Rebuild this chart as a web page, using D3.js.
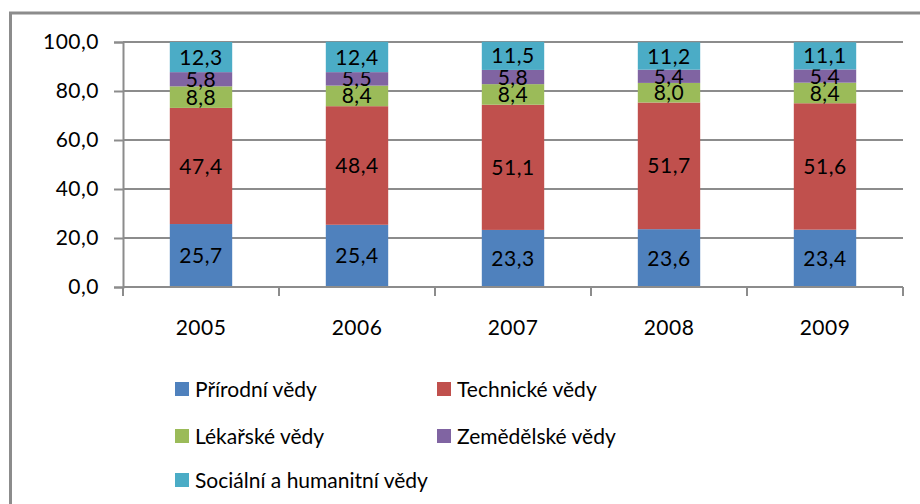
<!DOCTYPE html>
<html>
<head>
<meta charset="utf-8">
<script src="https://cdn.jsdelivr.net/npm/d3@7"></script>
<style>
  body { margin: 0; background: #fff; }
  svg text { font-family: Lato, "Open Sans", sans-serif; fill: #000; }
</style>
</head>
<body>
<div id="chart"></div>
<script>
const years = ["2005", "2006", "2007", "2008", "2009"];
const fields = ["Přírodní vědy", "Technické vědy", "Lékařské vědy", "Zemědělské vědy", "Sociální a humanitní vědy"];
const prirodni = [25.7, 25.4, 23.3, 23.6, 23.4];
const technicke = [47.4, 48.4, 51.1, 51.7, 51.6];
const lekarske = [8.8, 8.4, 8.4, 8.0, 8.4];
const zemedelske = [5.8, 5.5, 5.8, 5.4, 5.4];
const socialni = [12.3, 12.4, 11.5, 11.2, 11.1];
const yTicks = [0, 20, 40, 60, 80, 100];

const colors = ["#4f81bd", "#c0504d", "#9bbb59", "#8064a2", "#4bacc6"];
const series = [prirodni, technicke, lekarske, zemedelske, socialni];

const width = 920, height = 504;
const plotL = 123, plotR = 903, plotT = 42, plotB = 287;

const svg = d3.select("#chart").append("svg")
    .attr("width", width)
    .attr("height", height);

// outer frame
svg.append("rect")
    .attr("x", 10.5).attr("y", 13)
    .attr("width", 930).attr("height", 510)
    .attr("fill", "none")
    .attr("stroke", "#8c8c8c")
    .attr("stroke-width", 3);

const rows = years.map((y, i) => {
  const r = { year: y };
  fields.forEach((f, k) => r[f] = series[k][i]);
  return r;
});
const stacked = d3.stack().keys(fields)(rows);

const x = d3.scaleBand().domain(years).range([plotL, plotR]).paddingInner(0.6).paddingOuter(0.3);
const y = d3.scaleLinear().domain([0, 100]).range([plotB, plotT]);
const fmt = v => d3.format(".1f")(v).replace(".", ",");

// gridlines
svg.append("g")
    .selectAll("line")
    .data(yTicks.filter(d => d > 0))
    .enter().append("line")
    .attr("x1", plotL).attr("x2", plotR)
    .attr("y1", d => y(d)).attr("y2", d => y(d))
    .attr("stroke", "#8c8c8c")
    .attr("stroke-width", 2);

// y axis
const yAxis = svg.append("g")
    .attr("transform", `translate(${plotL},0)`)
    .call(d3.axisLeft(y).tickValues(yTicks).tickFormat(fmt).tickSize(9).tickPadding(15));
yAxis.select(".domain").attr("stroke", "#8c8c8c").attr("stroke-width", 2);
yAxis.selectAll(".tick line").attr("stroke", "#8c8c8c").attr("stroke-width", 2);
yAxis.selectAll("text").style("font-size", "21px").style("letter-spacing", "0.5px");

// bars
const layer = svg.append("g")
    .selectAll("g")
    .data(stacked)
    .enter().append("g")
    .attr("fill", (d, i) => colors[i]);

layer.selectAll("rect")
    .data(d => d)
    .enter().append("rect")
    .attr("x", d => x(d.data.year))
    .attr("width", x.bandwidth())
    .attr("y", d => y(d[1]))
    .attr("height", d => y(d[0]) - y(d[1]));

layer.selectAll("text")
    .data(d => d)
    .enter().append("text")
    .attr("x", d => x(d.data.year) + x.bandwidth() / 2)
    .attr("y", d => (y(d[0]) + y(d[1])) / 2)
    .attr("text-anchor", "middle")
    .attr("dy", "0.36em")
    .style("font-size", "21px")
    .style("letter-spacing", "0.5px")
    .text(d => fmt(d[1] - d[0]));

// x axis
const xAxis = svg.append("g").attr("transform", `translate(0,${plotB})`);
xAxis.append("line")
    .attr("x1", plotL).attr("x2", plotR)
    .attr("stroke", "#8c8c8c").attr("stroke-width", 2);
const step = x.step();
xAxis.selectAll(".tk")
    .data(d3.range(years.length + 1))
    .enter().append("line")
    .attr("x1", i => plotL + i * step).attr("x2", i => plotL + i * step)
    .attr("y1", 0).attr("y2", 9)
    .attr("stroke", "#8c8c8c").attr("stroke-width", 2);
xAxis.selectAll("text")
    .data(years)
    .enter().append("text")
    .attr("x", d => x(d) + x.bandwidth() / 2)
    .attr("y", 48)
    .attr("text-anchor", "middle")
    .style("font-size", "21px")
    .style("letter-spacing", "0.5px")
    .text(d => d);

// legend
const legendPos = [[175, 389], [437, 389], [175, 436], [437, 436], [175, 480]];
const lg = svg.append("g")
    .selectAll("g")
    .data(fields)
    .enter().append("g")
    .attr("transform", (d, i) => `translate(${legendPos[i][0]},${legendPos[i][1]})`);
lg.append("rect")
    .attr("x", 0).attr("y", -7)
    .attr("width", 14).attr("height", 14)
    .attr("fill", (d, i) => colors[i]);
lg.append("text")
    .attr("x", 20)
    .attr("dy", "0.36em")
    .style("font-size", "21px")
    .text(d => d);
</script>
</body>
</html>
